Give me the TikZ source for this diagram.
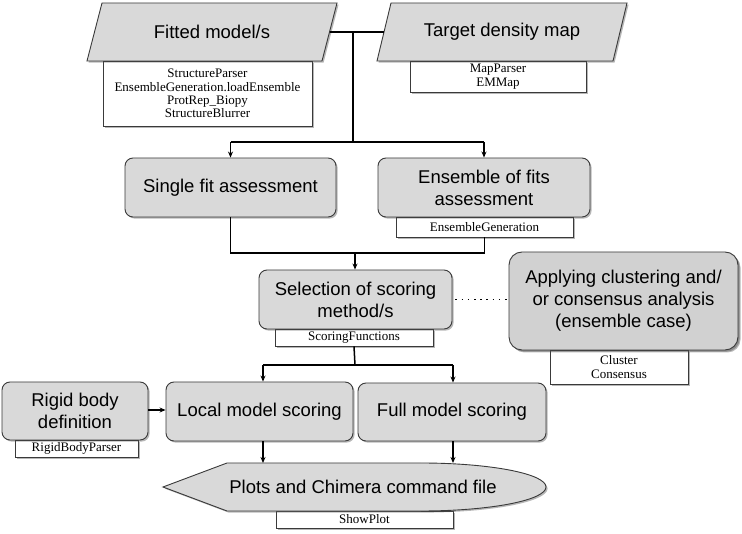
\documentclass[tikz,border=0pt]{standalone}
\usepackage{fontspec}
\setmainfont{Liberation Sans}
\newfontfamily\subfont{Liberation Serif}
\usetikzlibrary{shadows,arrows.meta}
\definecolor{boxgray}{HTML}{D9D9D9}
\definecolor{darkgray2}{HTML}{D1D1D1}
\definecolor{edgegray}{HTML}{3A3A3A}
\tikzset{
  shad/.style={drop shadow={shadow xshift=1.6pt, shadow yshift=-1.6pt, opacity=0.4, fill=black!70}},
  graybox/.style={draw=edgegray, line width=0.9pt, fill=boxgray, rounded corners=8pt,
    inner sep=0pt, align=center, font=\fontsize{18.5}{22}\selectfont, shad},
  subbox/.style={draw=edgegray, line width=0.9pt, fill=white, inner sep=0pt, align=center,
    font=\subfont\fontsize{13}{13.4}\selectfont, shad},
  shapefill/.style={draw=edgegray, line width=0.9pt, fill=boxgray, shad},
  labeltext/.style={inner sep=0pt, align=center, font=\fontsize{18.5}{22}\selectfont},
  conn/.style={line width=1.5pt, black},
  arr/.style={conn, -{Stealth[length=6pt,width=5pt]}},
}
\begin{document}
\begin{tikzpicture}[x=1pt,y=-1pt]
\useasboundingbox (0,0) rectangle (742,534);

% ---- top inputs ----
\node[subbox, minimum width=209pt, minimum height=65pt] (fitsub) at (207.5,93.5)
  {StructureParser\\EnsembleGeneration.loadEnsemble\\ProtRep\_Biopy\\StructureBlurrer};
\filldraw[shapefill] (102,3) -- (337,3) -- (322,61) -- (87,61) -- cycle;
\node[labeltext, minimum width=235pt, minimum height=58pt] (fitted) at (212,32) {Fitted model/s};

\node[subbox, minimum width=176pt, minimum height=31pt] (mapsub) at (498,76.5)
  {MapParser\\EMMap};
\filldraw[shapefill] (391,3) -- (627,3) -- (613,61) -- (377,61) -- cycle;
\node[labeltext, minimum width=236pt, minimum height=58pt] (target) at (502,32) {Target density map};

\coordinate (top) at (353,32);
\coordinate (split1) at (353,142);
\draw[conn] (fitted.east) -- (target.west);
\draw[conn] (top) -- (split1);

% ---- assessment ----
\node[graybox, minimum width=211pt, minimum height=59pt] (single) at (230.5,187.5) {Single fit assessment};
\node[subbox, minimum width=177pt, minimum height=20pt] (ensgen) at (484.5,227) {EnsembleGeneration};
\node[graybox, minimum width=212pt, minimum height=59pt] (ensemble) at (484,187.5) {Ensemble of fits\\assessment};

\draw[conn] (split1 -| single.north) -- (split1 -| ensemble.north);
\draw[arr] (split1 -| single.north) -- (single.north);
\draw[arr] (split1 -| ensemble.north) -- (ensemble.north);

\coordinate (merge1) at (355,253);
\draw[conn] (single.south) -- (merge1 -| single.south) -- (merge1 -| ensgen.south) -- (ensgen.south);

% ---- selection ----
\node[subbox, minimum width=158pt, minimum height=17pt] (scorsub) at (354,337.5) {ScoringFunctions};
\node[graybox, minimum width=193pt, minimum height=59pt] (selection) at (355.5,299.5) {Selection of scoring\\method/s};
\draw[arr] (merge1) -- (merge1 |- selection.north);

\node[subbox, minimum width=138pt, minimum height=34pt] (clustsub) at (619,367) {Cluster\\Consensus};
\node[graybox, fill=darkgray2, rounded corners=13pt, minimum width=229pt, minimum height=98pt,
  drop shadow={shadow xshift=2.5pt, shadow yshift=-2.5pt, opacity=0.4, fill=black!70}] (applying) at (623.5,301)
  {Applying clustering and/\\or consensus analysis\\(ensemble case)};
\draw[line width=1.8pt, dash pattern=on 1.6pt off 4.6pt, shorten <=3pt, shorten >=2pt] (selection.east) -- (applying.west |- selection.east);

% ---- scoring ----
\node[subbox, minimum width=123pt, minimum height=17pt] (rigidsub) at (76.5,448.5) {RigidBodyParser};
\node[graybox, minimum width=146pt, minimum height=58pt] (rigid) at (75,411) {Rigid body\\definition};
\node[graybox, minimum width=187pt, minimum height=59pt] (local) at (259.5,411.5) {Local model scoring};
\node[graybox, minimum width=188pt, minimum height=58pt] (full) at (452,412) {Full model scoring};

\coordinate (split2) at (355,365);
\draw[conn] (scorsub.south) -- (split2);
\coordinate (la) at (263,365);
\coordinate (fa) at (453,365);
\draw[conn] (la) -- (fa);
\draw[arr] (la) -- (la |- local.north);
\draw[arr] (fa) -- (fa |- full.north);
\draw[arr] (rigid.east |- 0,410) -- (local.west |- 0,410);

% ---- output ----
\node[subbox, minimum width=177pt, minimum height=17pt] (showsub) at (364.5,519.5) {ShowPlot};
\filldraw[shapefill] (227,463) -- (421,463) arc[start angle=90, end angle=-90, x radius=125pt, y radius=24pt]
  -- (227,511) -- (163,487) -- cycle;
\node[labeltext, minimum width=300pt, minimum height=48pt] (plots) at (363,487) {Plots and Chimera command file};
\coordinate (pl) at (263,463);
\coordinate (pf) at (453,463);
\draw[arr] (la |- local.south) -- (pl);
\draw[arr] (fa |- full.south) -- (pf);
\end{tikzpicture}
\end{document}
